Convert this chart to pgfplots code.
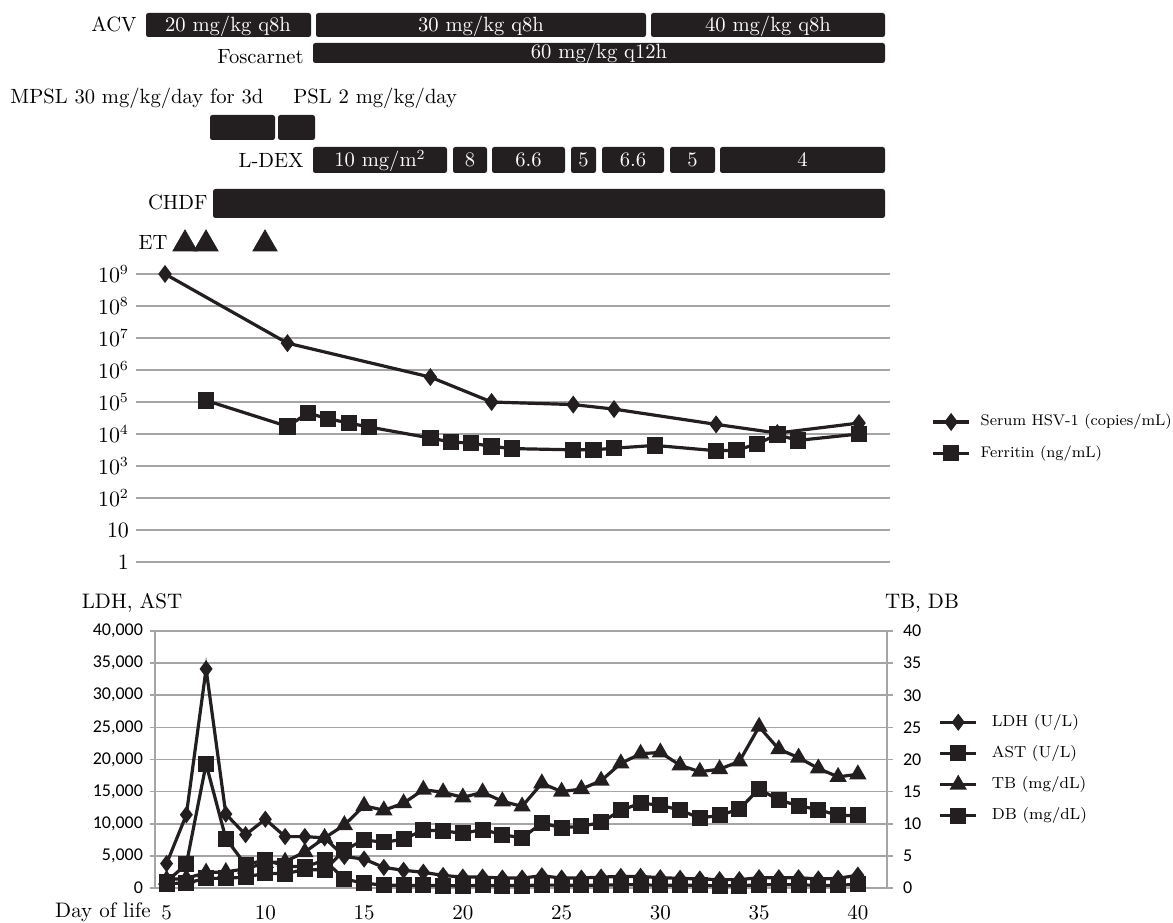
\documentclass[border=0pt]{standalone}
\usepackage{pgfplots}
\pgfplotsset{compat=1.18}
\usepackage{fontspec}
\newfontfamily\carlito{Carlito}
\definecolor{barc}{RGB}{35,31,32}
\definecolor{gridc}{RGB}{165,165,165}
\newcommand\tl{\fontsize{10.3}{12}\selectfont}
\newcommand\seg[4]{\fill[barc,rounded corners=1.2pt] (axis cs:#1,#3) rectangle (axis cs:#2,#4);}
\newcommand\wlab[3]{\node[anchor=base,font=\tl,text=white,inner sep=0pt] at (axis cs:#1,#2) {#3};}
\newcommand\blab[4]{\node[anchor=#1,font=\tl,inner sep=0pt] at (axis cs:#2,#3) {#4};}

\pgfplotstableread{
x y
5 3800
6 11400
7 34100
8 11500
9 8300
10 10700
11 8000
12 8000
13 7800
14 4900
15 4500
16 3200
17 2750
18 2450
19 1950
20 1700
21 1700
22 1550
23 1550
24 1900
25 1550
26 1550
27 1700
28 1800
29 1800
30 1600
31 1500
32 1400
33 1300
34 1300
35 1600
36 1600
37 1600
38 1400
39 1500
40 2000
}\ldh
\pgfplotstableread{
x y
5 1000
6 3700
7 19300
8 7700
9 3600
10 4400
11 3400
12 3300
13 4300
14 1400
15 750
16 450
17 400
18 400
19 380
20 350
21 400
22 380
23 380
24 450
25 450
26 420
27 450
28 500
29 500
30 400
31 450
32 400
33 350
34 350
35 500
36 500
37 500
38 400
39 400
40 600
}\ast
\pgfplotstableread{
x y
5 1.3
6 1.5
7 2.4
8 2.5
9 3.0
10 3.9
11 4.1
12 5.6
13 7.8
14 9.8
15 12.8
16 12.1
17 13.2
18 15.3
19 14.9
20 14.1
21 14.9
22 13.5
23 12.7
24 16.3
25 15.0
26 15.4
27 16.7
28 19.4
29 20.9
30 21.1
31 19.1
32 18.1
33 18.5
34 19.7
35 25.1
36 21.6
37 20.3
38 18.6
39 17.3
40 17.7
}\tb
\pgfplotstableread{
x y
5 0.7
6 0.75
7 1.5
8 1.5
9 1.7
10 2.3
11 2.2
12 2.9
13 2.8
14 5.9
15 7.5
16 7.1
17 7.6
18 9.0
19 8.9
20 8.5
21 9.1
22 8.3
23 7.8
24 10.1
25 9.4
26 9.6
27 10.2
28 12.1
29 13.2
30 12.9
31 12.1
32 10.9
33 11.3
34 12.3
35 15.4
36 13.7
37 12.8
38 12.2
39 11.3
40 11.3
}\db
\pgfplotstableread{
x y
5 1e9
11 6.9e6
18 6.0e5
21 1.0e5
25 8.3e4
27 6.0e4
32 2.0e4
35 1.07e4
39 2.2e4
}\hsv
\pgfplotstableread{
x y
7 1.12e5
11 1.73e4
12 4.5e4
13 3.0e4
14 2.2e4
15 1.65e4
18 7.5e3
19 5.6e3
20 5.2e3
21 4.1e3
22 3.5e3
25 3.2e3
26 3.2e3
27 3.6e3
29 4.4e3
32 3.0e3
33 3.1e3
34 4.9e3
35 9.6e3
36 6.3e3
39 1.0e4
}\fer

\begin{document}
\begin{tikzpicture}
\useasboundingbox (0,0) rectangle (586.5pt,461pt);
% ---------- treatment timeline (pixel coordinates) ----------
\begin{axis}[at={(0pt,331pt)},anchor=south west,scale only axis,width=586.5pt,height=130pt,
  xmin=0,xmax=1173,ymin=0,ymax=260,y dir=reverse,hide axis,clip=false]
\seg{146}{311}{13}{37}
\seg{316}{646}{13}{37}
\seg{651}{885}{13}{37}
\seg{313}{885}{43}{63}
\seg{210}{275}{115}{140}
\seg{278}{315}{115}{140}
\seg{313}{447}{147}{173}
\seg{453}{487}{147}{173}
\seg{492}{565}{147}{173}
\seg{571}{596}{147}{173}
\seg{602}{664}{147}{173}
\seg{670}{715}{147}{173}
\seg{720}{885}{147}{173}
\seg{213}{885}{189}{218}
\wlab{228}{32}{20 mg/kg q8h}
\wlab{481}{32}{30 mg/kg q8h}
\wlab{768}{32}{40 mg/kg q8h}
\wlab{599}{59}{60 mg/kg q12h}
\wlab{380}{167}{10 mg/m$^{2}$}
\wlab{470}{167}{8}
\wlab{528.5}{167}{6.6}
\wlab{583.5}{167}{5}
\wlab{633}{167}{6.6}
\wlab{692.5}{167}{5}
\wlab{802.5}{167}{4}
\blab{base east}{137}{32}{ACV}
\blab{base east}{304}{64}{Foscarnet}
\blab{base west}{10}{104}{MPSL 30 mg/kg/day for 3d}
\blab{base west}{293}{104}{PSL 2 mg/kg/day}
\blab{base east}{304}{168}{L-DEX}
\blab{base east}{208}{210}{CHDF}
\blab{base east}{168}{250}{ET}
\addplot[only marks,mark=triangle*,mark size=7pt,color=barc] coordinates {(185,244) (206,244) (265,244)};
\end{axis}

% ---------- log chart ----------
\begin{axis}[at={(68pt,180pt)},anchor=south west,scale only axis,width=377pt,height=144pt,
  xmin=3.579,xmax=40.52,ymode=log,ymin=1,ymax=1e9,
  axis x line=none,axis y line*=left,y axis line style={draw=none},
  ytick={1,10,100,1000,10000,100000,1000000,10000000,100000000,1000000000},
  yticklabels={$1$,$10$,$10^{2}$,$10^{3}$,$10^{4}$,$10^{5}$,$10^{6}$,$10^{7}$,$10^{8}$,$10^{9}$},
  ytick style={draw=none},yminorticks=false,
  ymajorgrids,grid style={gridc,line width=0.8pt},
  yticklabel style={font=\fontsize{10.5}{12}\selectfont},
  clip=false,
  legend style={draw=none,fill=none,at={(1.0545,0.432)},anchor=west,
    font=\fontsize{7.7}{9.2}\selectfont,row sep=7.6pt,inner sep=0pt,
    nodes={inner sep=0pt,text height=6pt,text depth=2pt},
    /tikz/every odd column/.append style={column sep=5pt}},
  legend cell align=left,
  legend image code/.code={\draw[#1,mark repeat=2,mark phase=2] plot coordinates {(0pt,0pt) (9pt,0pt) (18pt,0pt)};}]
\addplot[barc,line width=1.6pt,mark=diamond*,mark size=3.2pt] table {\hsv};
\addlegendentry{Serum HSV-1 (copies/mL)}
\addplot[barc,line width=1.6pt,mark=square*,mark size=3.3pt] table {\fer};
\addlegendentry{Ferritin (ng/mL)}
\end{axis}

% ---------- bottom chart, left axis ----------
\begin{axis}[at={(77.5pt,17pt)},anchor=south west,scale only axis,width=366pt,height=128.5pt,
  xmin=4.413,xmax=41.476,ymin=0,ymax=40000,
  axis x line*=bottom,axis y line*=left,axis line style={gridc,line width=0.8pt,-},
  xtick={5,10,...,40},xtick style={draw=none},
  ytick={0,5000,...,40000},ytick style={gridc,line width=0.8pt},
  scaled y ticks=false,
  tick align=outside,major tick length=2.5pt,
  ymajorgrids,grid style={gridc,line width=0.8pt},
  yticklabel style={font=\carlito\fontsize{9}{10}\selectfont},
  xticklabel style={font=\fontsize{10.5}{12}\selectfont,anchor=base,yshift=-13pt},
  /pgf/number format/1000 sep={,},
  /pgf/number format/assume math mode=true,
  clip=false]
\addplot[barc,line width=1.6pt,mark=diamond*,mark size=3pt] table {\ldh};
\addplot[barc,line width=1.6pt,mark=square*,mark size=3.2pt] table {\ast};
\end{axis}

% ---------- bottom chart, right axis ----------
\begin{axis}[at={(77.5pt,17pt)},anchor=south west,scale only axis,width=366pt,height=128.5pt,
  xmin=4.413,xmax=41.476,ymin=0,ymax=40,
  axis x line=none,axis y line*=right,axis line style={gridc,line width=0.8pt,-},
  ytick={0,5,...,40},ytick style={gridc,line width=0.8pt},
  tick align=outside,major tick length=3pt,
  yticklabel style={font=\carlito\fontsize{9}{10}\selectfont,xshift=1.5pt},
  /pgf/number format/assume math mode=true,
  clip=false,
  legend style={draw=none,fill=none,at={(1.070,0.463)},anchor=west,
    font=\fontsize{8}{9.6}\selectfont,row sep=7.6pt,inner sep=0pt,
    nodes={inner sep=0pt,text height=6pt,text depth=2pt},
    /tikz/every odd column/.append style={column sep=7pt}},
  legend cell align=left,
  legend image code/.code={\draw[#1,mark repeat=2,mark phase=2] plot coordinates {(0pt,0pt) (9pt,0pt) (18pt,0pt)};}]
\addlegendimage{barc,line width=1.6pt,mark=diamond*,mark size=3pt}
\addlegendentry{LDH (U/L)}
\addlegendimage{barc,line width=1.6pt,mark=square*,mark size=3.2pt}
\addlegendentry{AST (U/L)}
\addplot[barc,line width=1.6pt,mark=triangle*,mark size=3.4pt] table {\tb};
\addlegendentry{TB (mg/dL)}
\addplot[barc,line width=1.6pt,mark=square*,mark size=3.2pt] table {\db};
\addlegendentry{DB (mg/dL)}
\end{axis}

\node[font=\fontsize{10.5}{12}\selectfont] at (66pt,159.5pt) {LDH, AST};
\node[font=\fontsize{10.5}{12}\selectfont] at (461pt,159.5pt) {TB, DB};
\node[anchor=base east,inner sep=0pt,font=\fontsize{10.5}{12}\selectfont] at (75.5pt,2.5pt) {Day of life};
\end{tikzpicture}
\end{document}
